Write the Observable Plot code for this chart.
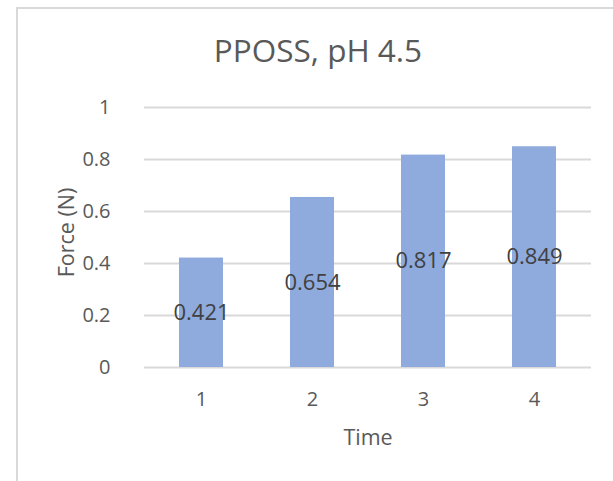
<!DOCTYPE html>
<html>
<head>
<meta charset="utf-8">
<script src="https://cdn.jsdelivr.net/npm/d3@7"></script>
<script src="https://cdn.jsdelivr.net/npm/@observablehq/plot@0.6"></script>
<style>
  body { margin: 0; background: #fff; font-family: "Open Sans", sans-serif; }
  #wrap { position: relative; width: 613px; height: 481px; overflow: hidden; }
  #frame { position: absolute; left: 16px; top: 7px; width: 640px; height: 520px;
           border: 2px solid #d9d9d9; box-sizing: border-box; }
  #title { position: absolute; left: 17px; width: 602px; top: 30px; text-align: center;
           font-size: 31.5px; line-height: 40px; color: #595959; }
  #chart { position: absolute; left: 0; top: 0; }
</style>
</head>
<body>
<div id="wrap">
  <div id="frame"></div>
  <div id="title">PPOSS, pH 4.5</div>
  <div id="chart"></div>
</div>
<script>
// Measured force at each time point
const times = [1, 2, 3, 4];
const forces = [0.421, 0.654, 0.817, 0.849];
const yTicks = [0, 0.2, 0.4, 0.6, 0.8, 1];
const xLabel = "Time";
const yLabel = "Force (N)";

const data = times.map((t, i) => ({time: t, force: forces[i]}));

const chart = Plot.plot({
  width: 613,
  height: 481,
  marginLeft: 144,
  marginRight: 22,
  marginTop: 107,
  marginBottom: 114,
  style: {fontFamily: '"Open Sans", sans-serif', background: "transparent", color: "#595959"},
  x: {domain: times, paddingInner: 0.6, paddingOuter: 0.3},
  y: {domain: [0, 1]},
  marks: [
    Plot.gridY(yTicks, {stroke: "#d9d9d9", strokeOpacity: 1, strokeWidth: 2}),
    Plot.barY(data, {x: "time", y: "force", fill: "#8faadc"}),
    Plot.text(data, {
      x: "time",
      y: d => d.force / 2,
      text: d => String(d.force),
      fill: "#404040",
      fontSize: 22
    }),
    Plot.axisY(yTicks, {
      tickSize: 0, tickPadding: 6, dx: -28, fontSize: 20, fill: "#595959",
      tickFormat: d => String(d),
      label: null
    }),
    Plot.axisY({
      ticks: [], tickSize: 0, fontSize: 21.5, fill: "#595959",
      label: yLabel, labelAnchor: "center", labelArrow: "none", labelOffset: 86
    }),
    Plot.axisX(times, {
      tickSize: 0, tickPadding: 24, fontSize: 20, fill: "#595959",
      label: null
    }),
    Plot.axisX({
      ticks: [], tickSize: 0, fontSize: 21.5, fill: "#595959",
      label: xLabel, labelAnchor: "center", labelArrow: "none", labelOffset: 77
    })
  ]
});

// nudge the vertical axis title slightly upward, keeping its own placement
const yTitle = chart.querySelector("g[aria-label='y-axis label']");
if (yTitle) {
  const t = yTitle.getAttribute("transform") || "";
  yTitle.setAttribute("transform", "translate(0,-5) " + t);
}

document.getElementById("chart").appendChild(chart);
</script>
</body>
</html>
